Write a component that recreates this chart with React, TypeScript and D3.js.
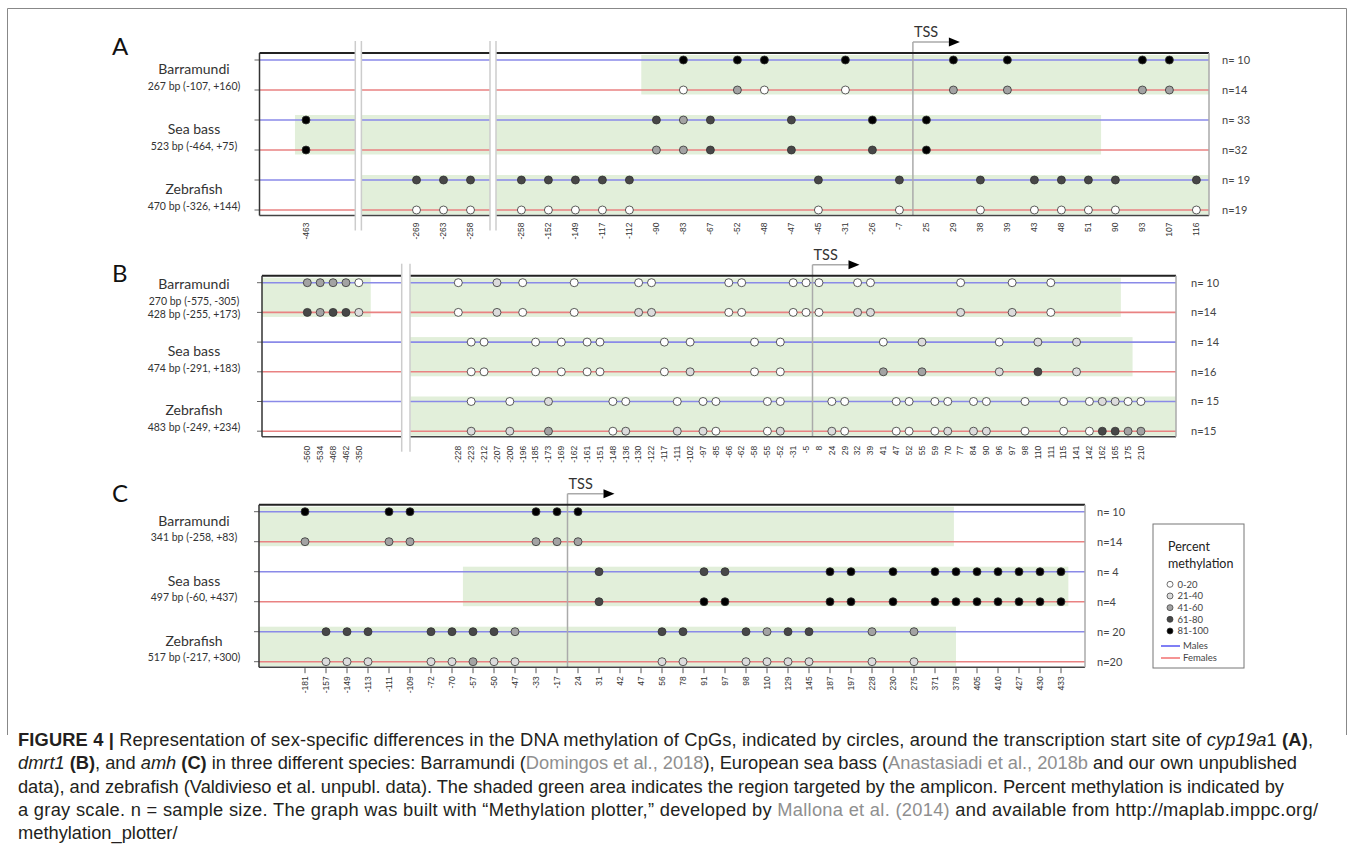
import * as d3 from "d3";

const LEVEL_LABELS = ["0-20", "21-40", "41-60", "61-80", "81-100"];
const LEVEL_FILLS = ["#ffffff", "#dcdcdc", "#a3a3a3", "#474747", "#000000"];
const MALE = "#8a8ae8";
const FEMALE = "#e98282";
const SHADE = "#e2efda";

const SPECIES = ["Barramundi", "Sea bass", "Zebrafish"];

// Rows are male, female for each species. One char per tick:
// "." = no CpG, 0..4 = methylation class (0-20 ... 81-100)

// A: cyp19a1
const A_TICKS = ["-463", "-269", "-263", "-258", "-258", "-152", "-149", "-117", "-112", "-90", "-83", "-67", "-52", "-48", "-47", "-45", "-31", "-26", "-7", "25", "29", "38", "39", "43", "48", "51", "90", "93", "107", "116"];
const A_AMPLICON = [["267 bp (-107, +160)"], ["523 bp (-464, +75)"], ["470 bp (-326, +144)"]];
const A_N = ["n= 10", "n=14", "n= 33", "n=32", "n= 19", "n=19"];
const A_ROWS = [
  "..........4.44..4...4.4....44.",
  "..........0.20..0...2.2....22.",
  "4........323..3..4.4..........",
  "4........223..3..3.4..........",
  ".33333333......3..3..3.3333..3",
  ".00000000......0..0..0.0000..0",
];
// amplicon spans per species, in (fractional) tick index
const A_SHADE = [[[8.44, Infinity]], [[-0.1, 25.47]], [[0.5, Infinity]]];
const A_TSS = 18.5;

// B: dmrt1
const B_TICKS = ["-560", "-534", "-468", "-462", "-350", "-228", "-223", "-212", "-207", "-200", "-196", "-185", "-173", "-169", "-162", "-161", "-151", "-148", "-136", "-130", "-122", "-117", "-111", "-102", "-97", "-85", "-66", "-62", "-58", "-55", "-52", "-31", "-5", "8", "24", "29", "32", "39", "41", "47", "52", "55", "59", "70", "77", "84", "90", "96", "97", "98", "110", "111", "115", "141", "142", "162", "165", "175", "210"];
const B_AMPLICON = [["270 bp (-575, -305)", "428 bp (-255, +173)"], ["474 bp (-291, +183)"], ["483 bp (-249, +234)"]];
const B_N = ["n= 10", "n=14", "n= 14", "n=16", "n= 15", "n=15"];
const B_ROWS = [
  "222200..1." + "0...0....0" + "0.....00.." + ".000..00.." + "....0...0." + ".0.......",
  "323310..1." + "0...0....1" + "1.....00.." + ".000..11.." + "....1...1." + ".0.......",
  "......00.." + ".0.0.00..." + ".0.0....0." + "0.......0." + ".1.....0.." + "1..1.....",
  "......00.." + ".0.0.00..." + ".0.1....0." + "0.......2." + ".2.....1.." + "3..1.....",
  "......0..0" + "..1....00." + "..0.00...0" + "0...00...0" + "0.00.00..0" + "..0.01100",
  "......1..1" + "..2....01." + "..1.10...0" + "1...10...0" + "0.01.11..0" + "..0.03322",
];
const B_SHADE = [[[-Infinity, 4.12], [4.5, 56.44]], [[4.5, 57.35]], [[4.52, Infinity]]];
const B_TSS = 32.5;

// C: amh
const C_TICKS = ["-181", "-157", "-149", "-113", "-111", "-109", "-72", "-70", "-57", "-50", "-47", "-33", "-17", "24", "31", "42", "47", "56", "78", "91", "97", "98", "110", "129", "145", "187", "197", "228", "230", "275", "371", "378", "405", "410", "427", "430", "433"];
const C_AMPLICON = [["341 bp (-258, +83)"], ["497 bp (-60, +437)"], ["517 bp (-217, +300)"]];
const C_N = ["n= 10", "n=14", "n= 4", "n=4", "n= 20", "n=20"];
const C_ROWS = [
  "4...44...." + ".444......" + ".........." + ".......",
  "2...22...." + ".222......" + ".........." + ".......",
  ".........." + "....3....3" + "3....44.4." + "4444444",
  ".........." + "....3....4" + "4....44.4." + "4444444",
  ".333..3333" + "2......33." + ".3233..2.2" + ".......",
  ".111..1121" + "1......11." + ".1111..1.1" + ".......",
];
const C_SHADE = [[[-Infinity, 30.9]], [[7.52, 36.35]], [[-Infinity, 31]]];
const C_TSS = 12.5;

type Layout = {
  label: string;
  labelY: number;
  row0: number;
  rowStep: number;
  left: number;
  right: number;
  step: number;
  segments: [number, number][]; // [first tick index, x of that tick]
  gaps: [number, number][];
  tickGap: number;
  nX: number;
  showTicks: boolean;
};

const LAYOUTS: Layout[] = [
  { label: "A", labelY: 55, row0: 60, rowStep: 30, left: 259.5, right: 1209, step: 27,
    segments: [[0, 306], [1, 416.5], [4, 521.4]], gaps: [[355.3, 361.4], [490, 496]], tickGap: 7, nX: 1222, showTicks: false },
  { label: "B", labelY: 282, row0: 282.7, rowStep: 29.7, left: 262, right: 1176, step: 12.88,
    segments: [[0, 307.3], [5, 458.3]], gaps: [[401.7, 410]], tickGap: 9, nX: 1191, showTicks: false },
  { label: "C", labelY: 502, row0: 511.7, rowStep: 30, left: 259, right: 1085, step: 21,
    segments: [[0, 305]], gaps: [], tickGap: 9, nX: 1097, showTicks: true },
];

type PanelData = {
  ticks: string[];
  rows: string[];
  shade: number[][][];
  amplicon: string[][];
  n: string[];
  tss: number;
};

const DATA: PanelData[] = [
  { ticks: A_TICKS, rows: A_ROWS, shade: A_SHADE, amplicon: A_AMPLICON, n: A_N, tss: A_TSS },
  { ticks: B_TICKS, rows: B_ROWS, shade: B_SHADE, amplicon: B_AMPLICON, n: B_N, tss: B_TSS },
  { ticks: C_TICKS, rows: C_ROWS, shade: C_SHADE, amplicon: C_AMPLICON, n: C_N, tss: C_TSS },
];

const LABEL_FONT = "Lato, 'Open Sans', sans-serif";
const TICK_FONT = "'Liberation Sans', Arial, sans-serif";

function Panel({ lay, data }: { lay: Layout; data: PanelData }) {
  const positions = data.ticks.map((_, i) => {
    const seg = lay.segments.filter((s) => s[0] <= i).pop()!;
    return seg[1] + (i - seg[0]) * lay.step;
  });
  const x = d3.scaleLinear().domain(d3.range(data.ticks.length)).range(positions);
  const y = d3.scalePoint<number>().domain(d3.range(6)).range([lay.row0, lay.row0 + 5 * lay.rowStep]);
  const top = y(0)! - 7;
  const bottom = y(5)! + 5.5;
  const px = (t: number) =>
    t === Infinity ? lay.right : t === -Infinity ? lay.left : Math.max(lay.left, Math.min(lay.right, x(t)));

  const tx = x(data.tss);
  const tssTop = top - 11;

  return (
    <g>
      <text x={112} y={lay.labelY} fontFamily={LABEL_FONT} fontSize={24} fill="#111">{lay.label}</text>

      {/* amplicon shading */}
      {data.shade.map((spans, k) =>
        spans.map((sp, j) => {
          const y0 = Math.max(top, y(2 * k)! - 5);
          const y1 = Math.min(bottom, y(2 * k + 1)! + 4.5);
          return <rect key={`${k}-${j}`} x={px(sp[0])} y={y0} width={px(sp[1]) - px(sp[0])} height={y1 - y0} fill={SHADE} />;
        })
      )}

      {/* sample lines */}
      {d3.range(6).map((r) => (
        <g key={r}>
          <line x1={lay.left} x2={lay.right} y1={y(r)} y2={y(r)} stroke={r % 2 === 0 ? MALE : FEMALE} strokeWidth={1.6} />
          <line x1={lay.left - 5} x2={lay.left} y1={y(r)} y2={y(r)} stroke="#666" strokeWidth={1} />
          <text x={lay.nX} y={y(r)} dy="0.35em" fontFamily={LABEL_FONT} fontSize={11} fill="#444">{data.n[r]}</text>
        </g>
      ))}

      {/* TSS marker */}
      <line x1={tx} x2={tx} y1={tssTop} y2={bottom} stroke="#aaa" strokeWidth={1.5} />
      <line x1={tx} x2={tx + 36} y1={tssTop} y2={tssTop} stroke="#aaa" strokeWidth={1.5} />
      <path d={`M${tx + 36},${tssTop - 4.5}L${tx + 47},${tssTop}L${tx + 36},${tssTop + 4.5}Z`} fill="#000" />
      <text x={tx + 1} y={tssTop - 5} fontFamily={LABEL_FONT} fontSize={14.5} fill="#333">TSS</text>

      {/* CpG circles */}
      {data.rows.map((row, r) =>
        row.split("").map((c, i) =>
          c === "." ? null : (
            <circle key={`${r}-${i}`} cx={x(i)} cy={y(r)} r={4} fill={LEVEL_FILLS[+c]} stroke="#333" strokeWidth={0.8} />
          )
        )
      )}

      {/* frame */}
      <line x1={lay.left} x2={lay.right} y1={top} y2={top} stroke="#222" strokeWidth={2} />
      <line x1={lay.left} x2={lay.right} y1={bottom} y2={bottom} stroke="#444" strokeWidth={1.5} />
      <line x1={lay.left} x2={lay.left} y1={top} y2={bottom} stroke="#333" strokeWidth={1.5} />
      <line x1={lay.right} x2={lay.right} y1={top} y2={bottom} stroke="#aaa" strokeWidth={1.5} />

      {/* axis breaks */}
      {lay.gaps.map((g, i) => (
        <g key={i}>
          <rect x={g[0]} y={top - 12} width={g[1] - g[0]} height={bottom - top + 27} fill="#fff" />
          <line x1={g[0]} x2={g[0]} y1={top - 12} y2={bottom + 15} stroke="#ccc" strokeWidth={1.5} />
          <line x1={g[1]} x2={g[1]} y1={top - 12} y2={bottom + 15} stroke="#ccc" strokeWidth={1.5} />
        </g>
      ))}

      {/* x ticks */}
      {data.ticks.map((t, i) => (
        <g key={i}>
          {lay.showTicks && <line x1={x(i)} x2={x(i)} y1={bottom + 1} y2={bottom + 6} stroke="#555" strokeWidth={1} />}
          <text
            transform={`translate(${x(i)},${bottom + lay.tickGap}) rotate(-90)`}
            textAnchor="end"
            dy="0.33em"
            fontFamily={TICK_FONT}
            fontSize={8.5}
            fill="#333"
          >
            {t}
          </text>
        </g>
      ))}

      {/* species labels */}
      {SPECIES.map((s, k) => {
        const subs = data.amplicon[k];
        const nameY = y(2 * k)! + 9 - (subs.length - 1) * 7.5;
        return (
          <g key={s}>
            <text x={194} y={nameY} dy="0.35em" textAnchor="middle" fontFamily={LABEL_FONT} fontSize={14} fill="#333">{s}</text>
            {subs.map((t, j) => (
              <text key={j} x={194} y={nameY + 17 + j * 13} dy="0.35em" textAnchor="middle" fontFamily={LABEL_FONT} fontSize={10.5} fill="#333">{t}</text>
            ))}
          </g>
        );
      })}
    </g>
  );
}

function Legend() {
  const ly = d3.scalePoint<number>().domain(d3.range(LEVEL_LABELS.length)).range([584.3, 631]);
  return (
    <g fontFamily={LABEL_FONT}>
      <rect x={1153} y={524} width={91} height={144} fill="#fff" stroke="#777" strokeWidth={1} />
      <text x={1168} y={551} fontSize={12.5} fill="#222">Percent</text>
      <text x={1168} y={568} fontSize={12.5} fill="#222">methylation</text>
      {LEVEL_LABELS.map((l, i) => (
        <g key={l}>
          <circle cx={1170} cy={ly(i)} r={3} fill={LEVEL_FILLS[i]} stroke="#333" strokeWidth={0.7} />
          <text x={1177.5} y={ly(i)} dy="0.35em" fontSize={9.5} fill="#444">{l}</text>
        </g>
      ))}
      <line x1={1161} x2={1180} y1={646} y2={646} stroke="#3a3af0" strokeWidth={1.3} />
      <text x={1183} y={646} dy="0.35em" fontSize={9.5} fill="#444">Males</text>
      <line x1={1161} x2={1180} y1={658} y2={658} stroke="#f05a5a" strokeWidth={1.3} />
      <text x={1183} y={658} dy="0.35em" fontSize={9.5} fill="#444">Females</text>
    </g>
  );
}

const REF = "#8f8f8f";

function Caption() {
  const base = { x: 18, fontFamily: TICK_FONT, fontSize: 18.3, fill: "#231f20", lengthAdjust: "spacing" as const };
  return (
    <g>
      <text {...base} y={746} textLength={1295}>
        <tspan fontWeight="bold">FIGURE 4 | </tspan>
        Representation of sex-specific differences in the DNA methylation of CpGs, indicated by circles, around the transcription start site of{" "}
        <tspan fontStyle="italic">cyp19a</tspan>1 <tspan fontWeight="bold">(A)</tspan>,
      </text>
      <text {...base} y={769} textLength={1279}>
        <tspan fontStyle="italic">dmrt1</tspan> <tspan fontWeight="bold">(B)</tspan>, and <tspan fontStyle="italic">amh</tspan>{" "}
        <tspan fontWeight="bold">(C)</tspan> in three different species: Barramundi (<tspan fill={REF}>Domingos et al., 2018</tspan>), European sea bass (
        <tspan fill={REF}>Anastasiadi et al., 2018b</tspan> and our own unpublished
      </text>
      <text {...base} y={793} textLength={1266}>
        data), and zebrafish (Valdivieso et al. unpubl. data). The shaded green area indicates the region targeted by the amplicon. Percent methylation is indicated by
      </text>
      <text {...base} y={816} textLength={1300}>
        a gray scale. n = sample size. The graph was built with “Methylation plotter,” developed by <tspan fill={REF}>Mallona et al. (2014)</tspan> and available from http://maplab.imppc.org/
      </text>
      <text {...base} y={839}>methylation_plotter/</text>
    </g>
  );
}

export default function App() {
  return (
    <svg width={1354} height={851} style={{ position: "absolute", left: 0, top: 0, background: "#fff" }}>
      <path d="M7.5,735V8.5H1346.5V735" fill="none" stroke="#888" strokeWidth={1} />
      {LAYOUTS.map((lay, i) => (
        <Panel key={lay.label} lay={lay} data={DATA[i]} />
      ))}
      <Legend />
      <Caption />
    </svg>
  );
}
